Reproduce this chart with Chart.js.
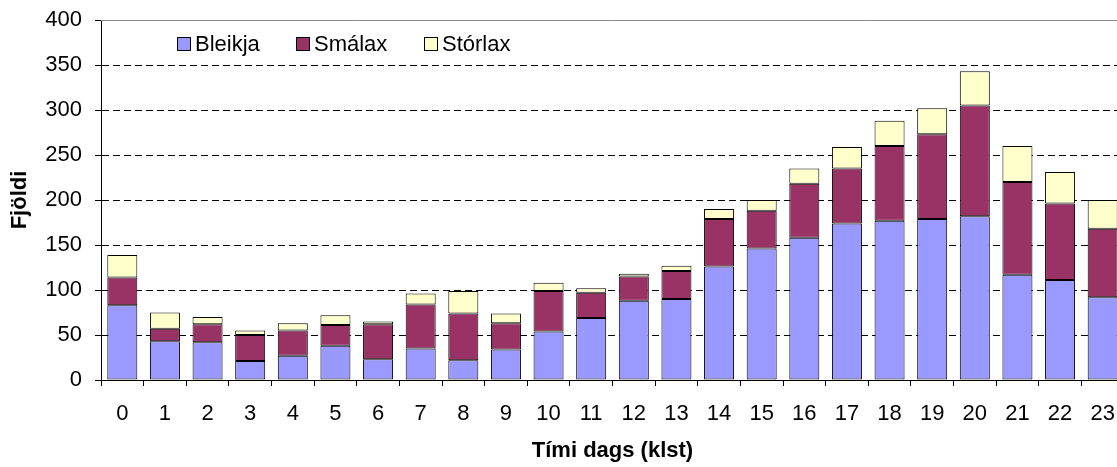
<!DOCTYPE html>
<html>
<head>
<meta charset="utf-8">
<script src="https://cdn.jsdelivr.net/npm/chart.js@4/dist/chart.umd.min.js"></script>
<style>
  html, body { margin: 0; padding: 0; background: #fff; overflow: hidden; }
  #wrap { width: 1124px; height: 467px; }
</style>
</head>
<body>
<div id="wrap"><canvas id="c" width="1124" height="467" style="width:1124px;height:467px"></canvas></div>
<script>
const hours = ['0','1','2','3','4','5','6','7','8','9','10','11','12','13','14','15','16','17','18','19','20','21','22','23'];
const seriesNames = ['Bleikja', 'Smálax', 'Stórlax'];
const bleikja = [83, 43, 42, 21, 27, 38, 23, 35, 22, 34, 54, 69, 88, 90, 126, 146, 158, 174, 177, 179, 182, 117, 111, 92];
const smalax  = [31, 14, 20, 29, 28, 23, 39, 49, 52, 29, 45, 28, 27, 31, 53, 42, 60, 61, 83, 94, 123, 103, 85, 76];
const storlax = [25, 18, 8, 5, 8, 11, 3, 12, 25, 11, 9, 5, 3, 6, 11, 12, 17, 24, 28, 29, 38, 40, 35, 32];
const yMin = 0, yMax = 400, yStep = 50;
const xTitle = 'Tími dags (klst)';
const yTitle = 'Fjöldi';

const colors = ['#9999FF', '#993366', '#FFFFCC'];
const FONT = "'Liberation Sans', Arial, sans-serif";

Chart.defaults.font.family = FONT;
Chart.defaults.font.size = 22;
Chart.defaults.color = '#000';

const legendPlugin = {
  id: 'insideLegend',
  afterDraw(chart) {
    const ctx = chart.ctx;
    const xs = [177, 296, 424];
    ctx.save();
    ctx.strokeStyle = '#888';
    ctx.lineWidth = 1;
    ctx.beginPath();
    ctx.moveTo(chart.chartArea.left, Math.round(chart.chartArea.top) + 0.5);
    ctx.lineTo(chart.chartArea.right, Math.round(chart.chartArea.top) + 0.5);
    ctx.stroke();
    ctx.font = '22px ' + FONT;
    ctx.textBaseline = 'middle';
    ctx.textAlign = 'left';
    seriesNames.forEach((name, i) => {
      const x = xs[i];
      ctx.fillStyle = colors[i];
      ctx.fillRect(x, 37.5, 13, 13);
      ctx.strokeStyle = '#000';
      ctx.lineWidth = 1;
      ctx.strokeRect(x + 0.5, 37.5, 13, 13);
      ctx.fillStyle = '#000';
      ctx.fillText(name, x + 18, 45);
    });
    ctx.restore();
  }
};

const mk = (label, data, i) => ({
  label, data,
  backgroundColor: colors[i],
  borderColor: '#000',
  borderWidth: 1,
  borderSkipped: false,
  barPercentage: 0.704,
  categoryPercentage: 1.0
});

new Chart(document.getElementById('c'), {
  type: 'bar',
  data: {
    labels: hours,
    datasets: [
      mk(seriesNames[0], bleikja, 0),
      mk(seriesNames[1], smalax, 1),
      mk(seriesNames[2], storlax, 2)
    ]
  },
  options: {
    responsive: false,
    animation: false,
    devicePixelRatio: 1,
    layout: { padding: { top: 20, right: 0, bottom: 0, left: 0 } },
    plugins: {
      legend: { display: false },
      tooltip: { enabled: false }
    },
    scales: {
      x: {
        stacked: true,
        offset: true,
        grid: {
          display: true,
          drawOnChartArea: false,
          drawTicks: true,
          tickLength: 6,
          color: '#000',
          tickColor: '#000',
          offset: true
        },
        border: { display: true, color: '#000', width: 1 },
        ticks: { padding: 15, maxRotation: 0, autoSkip: false, font: { size: 22 } },
        title: {
          display: true,
          text: xTitle,
          font: { size: 22, weight: 'bold' },
          padding: { top: 3, bottom: 3 }
        },
        afterFit(scale) {
          scale.height = 87;
          scale.paddingLeft = 0;
          scale.paddingRight = 0;
        }
      },
      y: {
        stacked: true,
        min: yMin,
        max: yMax,
        ticks: { stepSize: yStep, padding: 13, font: { size: 22 } },
        grid: {
          drawTicks: true,
          tickLength: 6,
          tickColor: '#000',
          color: (c) => (c.tick && (c.tick.value === yMin || c.tick.value === yMax)) ? 'rgba(0,0,0,0)' : '#000'
        },
        border: { display: true, color: '#000', width: 1, dash: [7, 4] },
        title: {
          display: true,
          text: yTitle,
          font: { size: 22, weight: 'bold' },
          padding: { top: 7, bottom: 0 }
        },
        afterFit(scale) {
          scale.width = 101;
          scale.paddingTop = 0;
          scale.paddingBottom = 0;
        }
      }
    }
  },
  plugins: [legendPlugin]
});
</script>
</body>
</html>
